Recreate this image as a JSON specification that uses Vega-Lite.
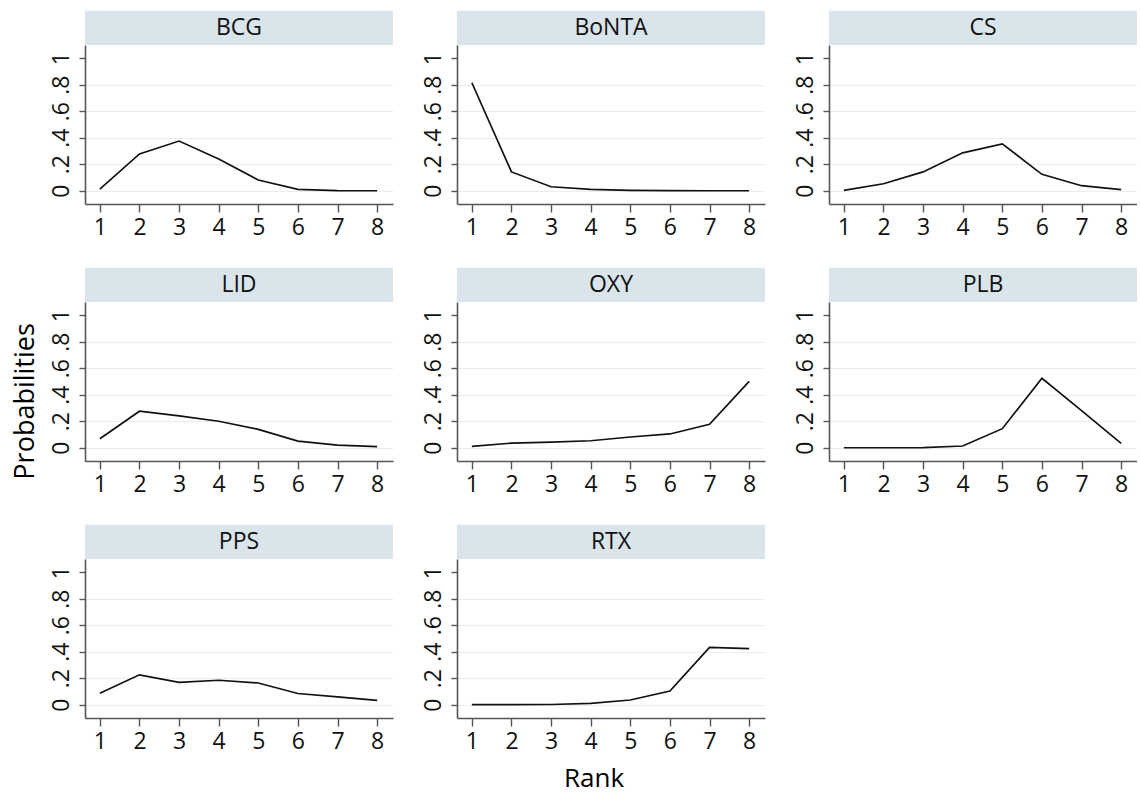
{
  "$schema": "https://vega.github.io/schema/vega-lite/v6.json",
  "padding": {"left": 12, "top": 10, "right": 0, "bottom": 12},
  "background": "white",
  "title": {"text": "Probabilities", "orient": "left", "anchor": "middle", "fontSize": 27, "font": "Open Sans", "fontWeight": "normal", "color": "#000000", "offset": 10},
  "data": {"values": [
    {"trt": "BCG", "rank": 1, "prob": 0.013}, {"trt": "BCG", "rank": 2, "prob": 0.278}, {"trt": "BCG", "rank": 3, "prob": 0.375}, {"trt": "BCG", "rank": 4, "prob": 0.24}, {"trt": "BCG", "rank": 5, "prob": 0.081}, {"trt": "BCG", "rank": 6, "prob": 0.01}, {"trt": "BCG", "rank": 7, "prob": 0.001}, {"trt": "BCG", "rank": 8, "prob": 0.0},
    {"trt": "BoNTA", "rank": 1, "prob": 0.815}, {"trt": "BoNTA", "rank": 2, "prob": 0.142}, {"trt": "BoNTA", "rank": 3, "prob": 0.03}, {"trt": "BoNTA", "rank": 4, "prob": 0.01}, {"trt": "BoNTA", "rank": 5, "prob": 0.003}, {"trt": "BoNTA", "rank": 6, "prob": 0.001}, {"trt": "BoNTA", "rank": 7, "prob": 0.0}, {"trt": "BoNTA", "rank": 8, "prob": 0.0},
    {"trt": "CS", "rank": 1, "prob": 0.003}, {"trt": "CS", "rank": 2, "prob": 0.053}, {"trt": "CS", "rank": 3, "prob": 0.142}, {"trt": "CS", "rank": 4, "prob": 0.286}, {"trt": "CS", "rank": 5, "prob": 0.354}, {"trt": "CS", "rank": 6, "prob": 0.124}, {"trt": "CS", "rank": 7, "prob": 0.038}, {"trt": "CS", "rank": 8, "prob": 0.008},
    {"trt": "LID", "rank": 1, "prob": 0.068}, {"trt": "LID", "rank": 2, "prob": 0.276}, {"trt": "LID", "rank": 3, "prob": 0.24}, {"trt": "LID", "rank": 4, "prob": 0.2}, {"trt": "LID", "rank": 5, "prob": 0.139}, {"trt": "LID", "rank": 6, "prob": 0.05}, {"trt": "LID", "rank": 7, "prob": 0.02}, {"trt": "LID", "rank": 8, "prob": 0.008},
    {"trt": "OXY", "rank": 1, "prob": 0.01}, {"trt": "OXY", "rank": 2, "prob": 0.035}, {"trt": "OXY", "rank": 3, "prob": 0.043}, {"trt": "OXY", "rank": 4, "prob": 0.053}, {"trt": "OXY", "rank": 5, "prob": 0.081}, {"trt": "OXY", "rank": 6, "prob": 0.104}, {"trt": "OXY", "rank": 7, "prob": 0.177}, {"trt": "OXY", "rank": 8, "prob": 0.501},
    {"trt": "PLB", "rank": 1, "prob": 0.0}, {"trt": "PLB", "rank": 2, "prob": 0.0}, {"trt": "PLB", "rank": 3, "prob": 0.001}, {"trt": "PLB", "rank": 4, "prob": 0.013}, {"trt": "PLB", "rank": 5, "prob": 0.144}, {"trt": "PLB", "rank": 6, "prob": 0.524}, {"trt": "PLB", "rank": 7, "prob": 0.28}, {"trt": "PLB", "rank": 8, "prob": 0.033},
    {"trt": "PPS", "rank": 1, "prob": 0.087}, {"trt": "PPS", "rank": 2, "prob": 0.226}, {"trt": "PPS", "rank": 3, "prob": 0.169}, {"trt": "PPS", "rank": 4, "prob": 0.185}, {"trt": "PPS", "rank": 5, "prob": 0.164}, {"trt": "PPS", "rank": 6, "prob": 0.085}, {"trt": "PPS", "rank": 7, "prob": 0.059}, {"trt": "PPS", "rank": 8, "prob": 0.033},
    {"trt": "RTX", "rank": 1, "prob": 0.001}, {"trt": "RTX", "rank": 2, "prob": 0.001}, {"trt": "RTX", "rank": 3, "prob": 0.002}, {"trt": "RTX", "rank": 4, "prob": 0.01}, {"trt": "RTX", "rank": 5, "prob": 0.036}, {"trt": "RTX", "rank": 6, "prob": 0.103}, {"trt": "RTX", "rank": 7, "prob": 0.433}, {"trt": "RTX", "rank": 8, "prob": 0.423}
  ]},
  "facet": {
    "field": "trt", "type": "nominal",
    "sort": ["BCG", "BoNTA", "CS", "LID", "OXY", "PLB", "PPS", "RTX"],
    "header": {"labels": false, "labelExpr": "''", "labelFontSize": 0, "labelPadding": 0, "title": "Rank", "titleOrient": "bottom", "titleFontSize": 26, "titleFont": "Open Sans", "titleFontWeight": "normal", "titleColor": "#000000", "titlePadding": 48}
  },
  "columns": 3,
  "bounds": "flush",
  "spacing": {"row": 98, "column": 64},
  "resolve": {"axis": {"x": "independent", "y": "independent"}},
  "spec": {
    "width": 308,
    "height": 159,
    "layer": [
      {
        "transform": [{"filter": "datum.rank == 1"}],
        "mark": {"type": "rect", "fill": "#d9e5eb", "stroke": null},
        "encoding": {
          "x": {"datum": 0.625, "type": "quantitative", "title": null,
            "scale": {"domain": [0.625, 8.4], "nice": false, "zero": false},
            "axis": {"values": [1, 2, 3, 4, 5, 6, 7, 8], "tickCount": 20, "grid": false, "format": "d", "title": null, "labelOverlap": false}},
          "x2": {"datum": 8.4},
          "y": {"datum": 1.1, "type": "quantitative", "title": null,
            "scale": {"domain": [-0.1, 1.1], "nice": false, "zero": false},
            "axis": {
              "values": [0, 0.2, 0.4, 0.6, 0.8, 1],
              "tickCount": 20,
              "labelAngle": -90,
              "labelOverlap": false,
              "labelExpr": "datum.value == 0 ? '0' : datum.value == 1 ? '1' : replace(format(datum.value, '.1f'), '0.', '.')",
              "grid": true,
              "gridOpacity": {"condition": {"test": "datum.value == 1", "value": 0}, "value": 1},
              "title": null
            }},
          "y2": {"datum": 1.358}
        }
      },
      {
        "transform": [{"filter": "datum.rank == 1"}],
        "mark": {"type": "text", "font": "Open Sans", "fontSize": 23, "color": "#111111", "baseline": "middle", "align": "center"},
        "encoding": {
          "x": {"datum": 4.5125, "type": "quantitative", "title": null,
            "scale": {"domain": [0.625, 8.4], "nice": false, "zero": false},
            "axis": {"values": [1, 2, 3, 4, 5, 6, 7, 8], "tickCount": 20, "grid": false, "format": "d", "title": null, "labelOverlap": false}},
          "y": {"datum": 1.232, "type": "quantitative", "title": null,
            "scale": {"domain": [-0.1, 1.1], "nice": false, "zero": false},
            "axis": {
              "values": [0, 0.2, 0.4, 0.6, 0.8, 1],
              "tickCount": 20,
              "labelAngle": -90,
              "labelOverlap": false,
              "labelExpr": "datum.value == 0 ? '0' : datum.value == 1 ? '1' : replace(format(datum.value, '.1f'), '0.', '.')",
              "grid": true,
              "gridOpacity": {"condition": {"test": "datum.value == 1", "value": 0}, "value": 1},
              "title": null
            }},
          "text": {"field": "trt", "type": "nominal"}
        }
      },
      {
        "mark": {"type": "line", "color": "#111111", "strokeWidth": 1.7},
        "encoding": {
          "x": {
            "field": "rank", "type": "quantitative", "title": null,
            "scale": {"domain": [0.625, 8.4], "nice": false, "zero": false},
            "axis": {"values": [1, 2, 3, 4, 5, 6, 7, 8], "tickCount": 20, "grid": false, "format": "d", "title": null, "labelOverlap": false}
          },
          "y": {
            "field": "prob", "type": "quantitative", "title": null,
            "scale": {"domain": [-0.1, 1.1], "nice": false, "zero": false},
            "axis": {
              "values": [0, 0.2, 0.4, 0.6, 0.8, 1],
              "tickCount": 20,
              "labelAngle": -90,
              "labelOverlap": false,
              "labelExpr": "datum.value == 0 ? '0' : datum.value == 1 ? '1' : replace(format(datum.value, '.1f'), '0.', '.')",
              "grid": true,
              "gridOpacity": {"condition": {"test": "datum.value == 1", "value": 0}, "value": 1},
              "title": null
            }
          }
        }
      }
    ]
  },
  "config": {
    "view": {"stroke": null},
    "font": "Open Sans",
    "axis": {
      "labelFont": "Open Sans",
      "labelFontSize": 23,
      "labelColor": "#111111",
      "domainColor": "#555555",
      "domainWidth": 1.6,
      "tickColor": "#555555",
      "tickWidth": 1.4,
      "tickSize": 8,
      "labelPadding": 4,
      "gridColor": "#e6eff2",
      "gridWidth": 1.2
    },
    "axisY": {"tickSize": 6, "labelPadding": 6}
  }
}
